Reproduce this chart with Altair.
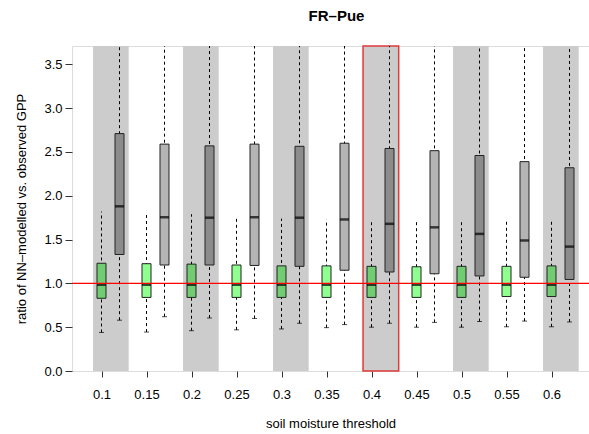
import altair as alt
import pandas as pd

# ---- data ----
thresholds = [0.1, 0.15, 0.2, 0.25, 0.3, 0.35, 0.4, 0.45, 0.5, 0.55, 0.6]

green_lo = [0.44, 0.445, 0.46, 0.47, 0.48, 0.495, 0.50, 0.50, 0.50, 0.505, 0.505]
green_q1 = [0.83, 0.84, 0.84, 0.84, 0.84, 0.84, 0.84, 0.84, 0.84, 0.85, 0.85]
green_med = [0.985, 0.985, 0.985, 0.985, 0.985, 0.985, 0.985, 0.985, 0.985, 0.985, 0.985]
green_q3 = [1.23, 1.225, 1.22, 1.21, 1.20, 1.20, 1.195, 1.19, 1.195, 1.195, 1.20]
green_hi = [1.82, 1.80, 1.79, 1.76, 1.74, 1.73, 1.72, 1.70, 1.72, 1.72, 1.73]

gray_lo = [0.58, 0.62, 0.605, 0.60, 0.545, 0.53, 0.545, 0.555, 0.565, 0.57, 0.56]
gray_q1 = [1.33, 1.21, 1.21, 1.205, 1.195, 1.15, 1.13, 1.11, 1.085, 1.07, 1.045]
gray_med = [1.88, 1.755, 1.75, 1.755, 1.75, 1.73, 1.68, 1.64, 1.565, 1.49, 1.42]
gray_q3 = [2.71, 2.59, 2.57, 2.59, 2.565, 2.60, 2.54, 2.515, 2.46, 2.39, 2.32]
gray_hi = [4.5, 4.5, 4.5, 4.5, 4.5, 4.5, 4.5, 4.5, 4.5, 4.5, 4.5]  # beyond the top, not visible

shaded_thresholds = [0.1, 0.2, 0.3, 0.4, 0.5, 0.6]
highlight_threshold = [0.4]

# ---- layout constants ----
YMAX = 3.71
XMIN, XMAX = 0.06722, 0.64166
GRAY_SHIFT = 0.02
BAND_LEFT, BAND_RIGHT = 0.0094, 0.0302
FONT = "Liberation Sans"

rows = []
for i, t in enumerate(thresholds):
    shaded = t in shaded_thresholds
    rows.append(dict(pos=t, lo=green_lo[i], q1=green_q1[i], med=green_med[i],
                     q3=green_q3[i], hi=green_hi[i],
                     fill="#72cc72" if shaded else "#8fff8f"))
    rows.append(dict(pos=t + GRAY_SHIFT, lo=gray_lo[i], q1=gray_q1[i], med=gray_med[i],
                     q3=gray_q3[i], hi=gray_hi[i],
                     fill="#8c8c8c" if shaded else "#b4b4b4"))
boxes = pd.DataFrame(rows)

bands = pd.DataFrame({"b_lo": [t - BAND_LEFT for t in shaded_thresholds],
                      "b_hi": [t + BAND_RIGHT for t in shaded_thresholds],
                      "bottom": [0.0] * len(shaded_thresholds),
                      "top": [YMAX] * len(shaded_thresholds)})
hl = pd.DataFrame({"b_lo": [t - BAND_LEFT for t in highlight_threshold],
                   "b_hi": [t + BAND_RIGHT for t in highlight_threshold],
                   "bottom": [0.0], "top": [YMAX]})

xscale = alt.Scale(domain=[XMIN, XMAX], nice=False, zero=False, padding=0)
yscale = alt.Scale(domain=[0, YMAX], nice=False, zero=False, padding=0, clamp=True)

xaxis = alt.Axis(values=thresholds, format=".2~f", title="soil moisture threshold",
                 grid=False, domain=False, tickSize=6, tickColor="#333",
                 labelPadding=11, labelFontSize=13, labelFont=FONT, labelColor="black",
                 titleFontSize=13, titleFont=FONT, titleFontWeight="normal",
                 titleColor="black", titlePadding=16)
yaxis = alt.Axis(values=[0, 0.5, 1.0, 1.5, 2.0, 2.5, 3.0, 3.5], format=".1f",
                 title="ratio of NN–modelled vs. observed GPP",
                 grid=False, domain=False, tickSize=7, tickColor="#333",
                 labelPadding=3, labelFontSize=13, labelFont=FONT, labelColor="black",
                 titleFontSize=13, titleFont=FONT, titleFontWeight="normal",
                 titleColor="black", titlePadding=15)

X = lambda f: alt.X(f, type="quantitative", scale=xscale, axis=xaxis)
Y = lambda f: alt.Y(f, type="quantitative", scale=yscale, axis=yaxis)

band_layer = alt.Chart(bands).mark_rect(color="#cccccc").encode(
    x=X("b_lo"), x2="b_hi", y=Y("bottom"), y2="top")

hl_layer = alt.Chart(hl).mark_rect(fillOpacity=0, stroke="#e03a3a", strokeWidth=1.5).encode(
    x=X("b_lo"), x2="b_hi", y=Y("bottom"), y2="top")

whisk = alt.Chart(boxes).mark_rule(strokeDash=[3, 3], color="black", strokeWidth=1).encode(
    x=X("pos"), y=Y("lo"), y2="hi")

caps = alt.Chart(boxes).mark_tick(orient="horizontal", size=5, thickness=1, color="black").encode(
    x=X("pos"), y=Y("lo"))

box = alt.Chart(boxes).mark_bar(size=9, stroke="#222222", strokeWidth=1).encode(
    x=X("pos"), y=Y("q1"), y2="q3", color=alt.Color("fill:N", scale=None))

med = alt.Chart(boxes).mark_tick(orient="horizontal", size=9, thickness=2.5, color="black").encode(
    x=X("pos"), y=Y("med"))

ref = alt.Chart(pd.DataFrame({"r": [1.0]})).mark_rule(color="#ff0000", strokeWidth=1.2).encode(
    y=Y("r"))

chart = alt.layer(band_layer, hl_layer, whisk, caps, box, med, ref).properties(
    width=517, height=325,
    autosize=alt.AutoSizeParams(type="none"),
    padding={"left": 72, "top": 46, "right": 0, "bottom": 63},
    title=alt.TitleParams("FR–Pue", fontSize=15, fontWeight="bold", font=FONT,
                          anchor="middle", dx=6, offset=9, baseline="alphabetic",
                          color="black"),
).configure_view(stroke="#555555", strokeWidth=1).configure(background="white")

chart.save("out.html", embed_options={"renderer": "svg", "actions": False})
